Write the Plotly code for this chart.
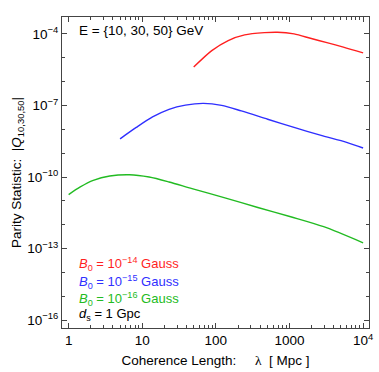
import plotly.graph_objects as go

# values (coherence length in Mpc, parity statistic)
lam_red = [50, 88, 147, 246, 457, 689, 1153, 1923, 3221, 5395, 10000]
q_red = [4.1e-6, 2.0e-5, 5.3e-5, 9.1e-5, 1.13e-4, 1.18e-4, 1.0e-4, 6.6e-5, 4.3e-5, 2.8e-5, 1.6e-5]

lam_blue = [5.0, 8.3, 13.8, 23.1, 38.6, 67.9, 119.7, 221.8, 505.8, 1153, 2618, 5970, 10000]
q_blue = [4.0e-9, 1.2e-8, 3.3e-8, 6.9e-8, 1.04e-7, 1.23e-7, 1.01e-7, 5.9e-8, 2.65e-8, 1.2e-8, 5.7e-9, 2.85e-9, 1.65e-9]

lam_green = [1.0, 1.44, 2.16, 3.62, 6.71, 12.4, 23.1, 47.4, 132.7, 371.5, 1038, 2911, 10000]
q_green = [1.84e-11, 3.84e-11, 7.2e-11, 1.1e-10, 1.25e-10, 1.0e-10, 6.2e-11, 3.26e-11, 1.34e-11, 5.3e-12, 2.17e-12, 8.3e-13, 1.75e-13]

x_major = [1, 10, 100, 1000, 10000]
x_major_text = ["1", "10", "100", "1000", "10<sup>4</sup>"]
y_major = [1e-4, 1e-7, 1e-10, 1e-13, 1e-16]
y_major_text = ["10<sup>\u22124</sup>", "10<sup>\u22127</sup>", "10<sup>\u221210</sup>",
                "10<sup>\u221213</sup>", "10<sup>\u221216</sup>"]

x_minor = [m * 10 ** d for d in range(0, 4) for m in range(2, 10)]
y_minor = [10.0 ** e for e in range(-16, -3) if e not in (-16, -13, -10, -7, -4)]

red = "#ff1f1f"
blue = "#2f2fff"
green = "#22bb22"

data = [
    go.Scatter(x=lam_red, y=q_red, mode="lines",
               line=dict(color=red, width=1.4, shape="spline", smoothing=0.8)),
    go.Scatter(x=lam_blue, y=q_blue, mode="lines",
               line=dict(color=blue, width=1.4, shape="spline", smoothing=0.8)),
    go.Scatter(x=lam_green, y=q_green, mode="lines",
               line=dict(color=green, width=1.4, shape="spline", smoothing=0.8)),
]

font = "Liberation Sans, Arial, sans-serif"
frame = "#444444"
nb = "\u00a0"

x_title = ("Coherence Length:" + nb * 5 + "<span style='font-family:Liberation Serif'>\u03bb</span>"
           + nb * 2 + "[" + nb + "Mpc" + nb + "]")
y_title = "Parity Statistic:" + nb * 2 + "|<i>Q</i><sub>10,30,50</sub>|"

layout = go.Layout(
    width=379, height=372,
    margin=dict(l=62, r=6, t=17, b=42),
    paper_bgcolor="white", plot_bgcolor="white",
    showlegend=False,
    font=dict(family=font, size=13, color="black"),
    xaxis=dict(type="log", range=[-0.09, 4.08],
               tickmode="array", tickvals=x_major, ticktext=x_major_text,
               ticks="inside", ticklen=5, tickwidth=1, tickcolor=frame,
               minor=dict(tickmode="array", tickvals=x_minor, ticks="inside",
                          ticklen=2.5, tickwidth=0.8, tickcolor=frame),
               showline=True, linecolor=frame, linewidth=1.2, mirror="allticks",
               showgrid=False, zeroline=False,
               tickfont=dict(size=13.5),
               title=dict(text=x_title, font=dict(size=13.5), standoff=8)),
    yaxis=dict(type="log", range=[-16.33, -3.29],
               tickmode="array", tickvals=y_major, ticktext=y_major_text,
               ticks="inside", ticklen=5, tickwidth=1, tickcolor=frame,
               minor=dict(tickmode="array", tickvals=y_minor, ticks="inside",
                          ticklen=2.5, tickwidth=0.8, tickcolor=frame),
               showline=True, linecolor=frame, linewidth=1.2, mirror="allticks",
               showgrid=False, zeroline=False,
               tickfont=dict(size=13.5),
               title=dict(text=y_title, font=dict(size=13.5), standoff=2)),
    annotations=[
        dict(x=0.05, y=0.955, xref="paper", yref="paper", xanchor="left", yanchor="middle",
             text="E = {10, 30, 50} GeV", showarrow=False, font=dict(size=13.5, color="black")),
        dict(x=0.05, y=0.207, xref="paper", yref="paper", xanchor="left", yanchor="middle",
             text="<i>B</i><sub>0</sub> = 10<sup>\u221214</sup> Gauss", showarrow=False,
             font=dict(size=13, color=red)),
        dict(x=0.05, y=0.148, xref="paper", yref="paper", xanchor="left", yanchor="middle",
             text="<i>B</i><sub>0</sub> = 10<sup>\u221215</sup> Gauss", showarrow=False,
             font=dict(size=13, color=blue)),
        dict(x=0.05, y=0.092, xref="paper", yref="paper", xanchor="left", yanchor="middle",
             text="<i>B</i><sub>0</sub> = 10<sup>\u221216</sup> Gauss", showarrow=False,
             font=dict(size=13, color=green)),
        dict(x=0.05, y=0.042, xref="paper", yref="paper", xanchor="left", yanchor="middle",
             text="<i>d</i><sub>s</sub> = 1 Gpc", showarrow=False,
             font=dict(size=13, color="black")),
    ],
)

fig = go.Figure(data=data, layout=layout)
# the page body has a default 8px margin; drop it so the figure fills the window
fig.write_html("out.html", config={"displayModeBar": False},
               post_script="document.body.style.margin='0';")
